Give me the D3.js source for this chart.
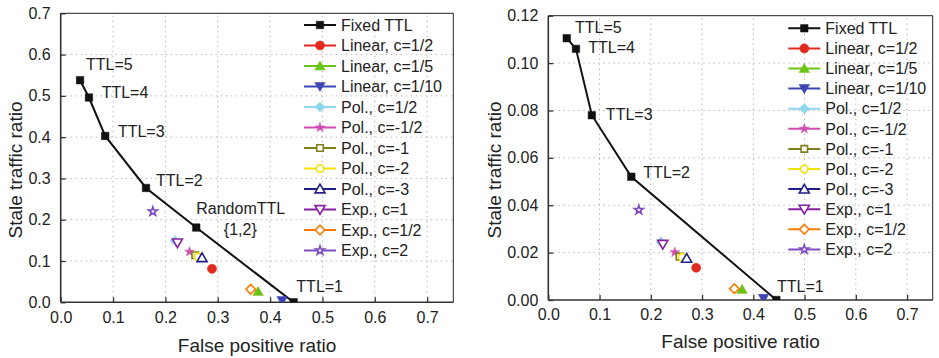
<!DOCTYPE html>
<html><head><meta charset="utf-8">
<script src="https://cdn.jsdelivr.net/npm/d3@7"></script>
<style>body{margin:0;background:#fff}svg{display:block;font-family:"Liberation Sans",Arial,sans-serif}</style>
</head><body><svg id="c" width="939" height="358"></svg>
<script>
// ---------- data ----------
const xTicks = [0.0, 0.1, 0.2, 0.3, 0.4, 0.5, 0.6, 0.7];
const yTicksA = [0.0, 0.1, 0.2, 0.3, 0.4, 0.5, 0.6, 0.7];
const yTicksB = [0.00, 0.02, 0.04, 0.06, 0.08, 0.10, 0.12];

const fixedXA = [0.037, 0.054, 0.085, 0.163, 0.259, 0.445];
const fixedYA = [0.538, 0.496, 0.403, 0.277, 0.181, 0.0];
const fixedLabelsA = ["TTL=5", "TTL=4", "TTL=3", "TTL=2", "RandomTTL", "TTL=1"];

const fixedXB = [0.036, 0.054, 0.085, 0.162, 0.445];
const fixedYB = [0.1105, 0.106, 0.078, 0.052, 0.0];
const fixedLabelsB = ["TTL=5", "TTL=4", "TTL=3", "TTL=2", "TTL=1"];

const seriesNames = ["Fixed TTL", "Linear, c=1/2", "Linear, c=1/5", "Linear, c=1/10",
  "Pol., c=1/2", "Pol., c=-1/2", "Pol., c=-1", "Pol., c=-2", "Pol., c=-3",
  "Exp., c=1", "Exp., c=1/2", "Exp., c=2"];
// one point per scheme (series 2..12)
const schemeXA = [0.289, 0.377, 0.423, 0.2185, 0.246, 0.257, 0.262, 0.270, 0.223, 0.363, 0.176];
const schemeYA = [0.081, 0.026, 0.004, 0.149, 0.1225, 0.114, 0.110, 0.108, 0.144, 0.0315, 0.220];
const schemeXB = [0.2885, 0.378, 0.420, 0.2195, 0.2468, 0.256, 0.261, 0.270, 0.2234, 0.363, 0.1766];
const schemeYB = [0.0136, 0.0045, 0.0007, 0.0245, 0.0201, 0.0183, 0.0180, 0.0176, 0.0235, 0.0048, 0.038];

// ---------- styles ----------
const colors = ["#111111", "#e02a1e", "#6cc416", "#3d46b0", "#8ed8ec", "#d04cb0",
  "#7f7f1e", "#f2e200", "#1f1f86", "#86209e", "#ff7a00", "#7d4cc0"];
const shapes = ["square", "circle", "triangle", "triangleDown", "diamond", "star",
  "square", "circle", "triangle", "triangleDown", "diamond", "star"];
const filled = [true, true, true, true, true, true, false, false, false, false, false, false];
const sizes = {square: 56, circle: 66, triangle: 48, triangleDown: 48, diamond: 52, star: 30};
const openSizes = {square: 42, circle: 44, triangle: 44, triangleDown: 44, diamond: 46, star: 24};

const svg = d3.select("#c");
svg.append("rect").attr("width", 939).attr("height", 358).attr("fill", "#fff");

function symbolPath(i) {
  const sh = shapes[i];
  const sz = filled[i] ? sizes[sh] : openSizes[sh];
  let type = d3.symbolSquare;
  if (sh === "circle") type = d3.symbolCircle;
  else if (sh === "triangle" || sh === "triangleDown") type = d3.symbolTriangle;
  else if (sh === "star") type = d3.symbolStar;
  return d3.symbol().type(type).size(sz)();
}
function symbolRot(i) {
  const sh = shapes[i];
  if (sh === "triangleDown") return 180;
  if (sh === "diamond") return 45;
  return 0;
}
function drawMarker(g, i, x, y) {
  const p = g.append("path").attr("d", symbolPath(i))
    .attr("transform", `translate(${x},${y}) rotate(${symbolRot(i)})`);
  if (filled[i]) p.attr("fill", colors[i]).attr("stroke", colors[i]).attr("stroke-width", 0.5);
  else p.attr("fill", "#fff").attr("stroke", colors[i]).attr("stroke-width", 1.6);
  return p;
}

function chart(cfg) {
  const x = d3.scaleLinear().domain([0, 0.75]).range([cfg.x0, cfg.x1]);
  const y = d3.scaleLinear().domain([0, cfg.yMax]).range([cfg.y0, cfg.y1]);
  const g = svg.append("g");
  const clipId = "clip" + cfg.id;
  g.append("clipPath").attr("id", clipId).append("rect")
    .attr("x", cfg.x0).attr("y", cfg.y1).attr("width", cfg.x1 - cfg.x0).attr("height", cfg.y0 - cfg.y1);

  // grid
  const grid = g.append("g").attr("stroke", "#b8b8b8").attr("stroke-width", 1).attr("stroke-dasharray", "1.5,3.5");
  xTicks.filter(t => t > 0).forEach(t => grid.append("line")
    .attr("x1", x(t)).attr("x2", x(t)).attr("y1", cfg.y0).attr("y2", cfg.y1));
  cfg.yTicks.filter(t => t > 0 && t < cfg.yMax - 1e-9).forEach(t => grid.append("line")
    .attr("x1", cfg.x0).attr("x2", cfg.x1).attr("y1", y(t)).attr("y2", y(t)));

  // frame
  g.append("line").attr("x1", cfg.x0).attr("x2", cfg.x1).attr("y1", cfg.y1).attr("y2", cfg.y1).attr("stroke", "#222").attr("stroke-width", 1);
  g.append("line").attr("x1", cfg.x1).attr("x2", cfg.x1).attr("y1", cfg.y1).attr("y2", cfg.y0).attr("stroke", "#222").attr("stroke-width", 1);

  // axes
  const ax = g.append("g").attr("transform", `translate(0,${cfg.y0})`)
    .call(d3.axisBottom(x).tickValues(xTicks).tickFormat(d3.format(".1f")).tickSize(-5).tickPadding(9));
  const ay = g.append("g").attr("transform", `translate(${cfg.x0},0)`)
    .call(d3.axisLeft(y).tickValues(cfg.yTicks).tickFormat(d3.format(cfg.yFmt)).tickSize(-5).tickPadding(10));
  [ax, ay].forEach(a => {
    a.select(".domain").attr("stroke", "#333").attr("stroke-width", 1.6);
    a.selectAll(".tick line").attr("stroke", "#333").attr("stroke-width", 1.3);
    a.selectAll("text").attr("font-size", 16).attr("fill", "#222").attr("font-family", "Liberation Sans, Arial, sans-serif");
  });
  ax.select(".domain").attr("d", `M${cfg.x0},0H${cfg.x1}`);
  ay.select(".domain").attr("d", `M0,${cfg.y0}V${cfg.y1}`);

  // axis titles
  g.append("text").attr("x", (cfg.x0 + cfg.x1) / 2).attr("y", cfg.xTitleY).attr("text-anchor", "middle")
    .attr("font-size", 19).attr("fill", "#222").text("False positive ratio");
  g.append("text").attr("transform", `translate(${cfg.yTitleX},${cfg.yTitleCy}) rotate(-90)`)
    .attr("text-anchor", "middle").attr("font-size", 19).attr("fill", "#222").text("Stale traffic ratio");

  // legend
  const lg = g.append("g");
  seriesNames.forEach((name, i) => {
    const ly = cfg.legY + i * cfg.legStep;
    lg.append("line").attr("x1", cfg.legX).attr("x2", cfg.legX + 32).attr("y1", ly).attr("y2", ly)
      .attr("stroke", colors[i]).attr("stroke-width", 2);
    drawMarker(lg, i, cfg.legX + 16, ly + (shapes[i] === "triangle" ? 1 : shapes[i] === "triangleDown" ? -1 : 0));
    lg.append("text").attr("x", cfg.legX + 37).attr("y", ly).attr("dy", "0.36em")
      .attr("font-size", 16).attr("fill", "#222").text(name);
  });

  // fixed TTL line
  const pg = g.append("g").attr("clip-path", `url(#${clipId})`);
  const pts = cfg.fx.map((v, k) => [x(v), y(cfg.fy[k])]);
  pg.append("path").attr("d", d3.line()(pts)).attr("fill", "none").attr("stroke", "#111").attr("stroke-width", 2);
  pts.forEach(p => drawMarker(pg, 0, p[0], p[1]));

  // scheme points
  cfg.sx.forEach((v, k) => {
    const i = k + 1;
    const off = shapes[i] === "triangle" ? 1 : shapes[i] === "triangleDown" ? -1 : 0;
    drawMarker(pg, i, x(v), y(cfg.sy[k]) + off);
  });

  // annotations
  cfg.labels.forEach((t, k) => {
    const o = cfg.labelOff[k];
    g.append("text").attr("x", x(cfg.fx[k]) + o[0]).attr("y", y(cfg.fy[k]) + o[1])
      .attr("dy", "0.36em").attr("font-size", 16).attr("fill", "#222").text(t);
    if (t === "RandomTTL") {
      g.append("text").attr("x", x(cfg.fx[k]) + o[0] + 44).attr("y", y(cfg.fy[k]) + o[1] + 21)
        .attr("dy", "0.36em").attr("text-anchor", "middle").attr("font-size", 16).attr("fill", "#222").text("{1,2}");
    }
  });
}

chart({id: "A", x0: 60.7, x1: 453.3, y0: 302.3, y1: 13.3, yMax: 0.7, yTicks: yTicksA, yFmt: ".1f",
  xTitleY: 352, yTitleX: 22, yTitleCy: 170,
  legX: 304, legY: 25, legStep: 20.5,
  fx: fixedXA, fy: fixedYA, sx: schemeXA, sy: schemeYA, labels: fixedLabelsA,
  labelOff: [[6, -16], [12.7, -5.6], [12.7, -4.3], [10, -7.3], [0, -19], [2.7, -15.7]]});

chart({id: "B", x0: 548.3, x1: 932.7, y0: 300, y1: 15.7, yMax: 0.12, yTicks: yTicksB, yFmt: ".2f",
  xTitleY: 348, yTitleX: 501, yTitleCy: 170,
  legX: 788.3, legY: 28.3, legStep: 20.1,
  fx: fixedXB, fy: fixedYB, sx: schemeXB, sy: schemeYB, labels: fixedLabelsB,
  labelOff: [[8.3, -10.6], [12.3, -1.6], [14, -1.4], [12, -5], [0.7, -14]]});
</script></body></html>
